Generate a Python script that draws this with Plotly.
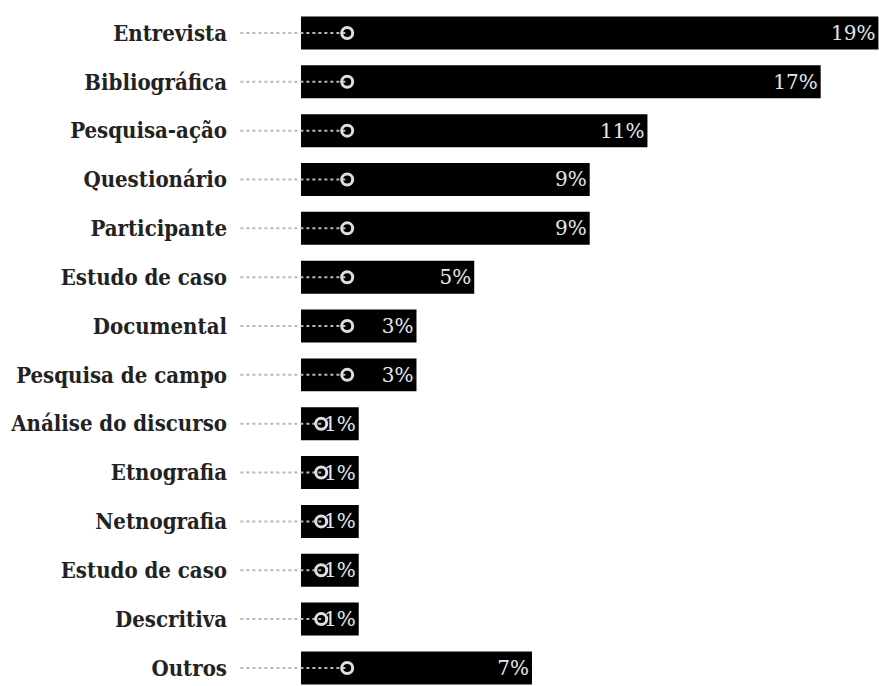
import plotly.graph_objects as go

labels = ["Entrevista", "Bibliográfica", "Pesquisa-ação", "Questionário", "Participante",
          "Estudo de caso", "Documental", "Pesquisa de campo", "Análise do discurso",
          "Etnografia", "Netnografia", "Estudo de caso", "Descritiva", "Outros"]
values = [19, 17, 11, 9, 9, 5, 3, 3, 1, 1, 1, 1, 1, 7]
pct_labels = [f"{v}%" for v in values]

rows = list(range(len(labels)))
BASE = -1  # bars start one unit left of zero (as in the original graphic)

fig = go.Figure()

fig.add_trace(go.Bar(
    y=rows, x=[v - BASE for v in values], base=BASE, orientation="h",
    marker=dict(color="black", line=dict(width=0)),
    width=0.675,
    text=pct_labels, textposition="inside", insidetextanchor="end",
    constraintext="none",
    textfont=dict(family="DejaVu Serif", size=20, color="#e6e6e6"),
    hoverinfo="skip", cliponaxis=False,
))

# dotted leader lines and open-circle markers
lx, ly, cx, cy = [], [], [], []
for r, v in zip(rows, values):
    c = 0.6 if v > 1 else -0.3
    lx += [-3.1, c, None]
    ly += [r, r, None]
    cx.append(c)
    cy.append(r)

fig.add_trace(go.Scatter(x=lx, y=ly, mode="lines",
                         line=dict(color="#b8b8b8", width=2, dash="dot"),
                         hoverinfo="skip", cliponaxis=False))
fig.add_trace(go.Scatter(x=cx, y=cy, mode="markers",
                         marker=dict(symbol="circle-open", size=11, color="#dedede",
                                     line=dict(width=3, color="#dedede")),
                         hoverinfo="skip", cliponaxis=False))

fig.update_layout(
    width=879, height=686,
    margin=dict(l=232, r=0, t=0, b=0),
    paper_bgcolor="white", plot_bgcolor="white",
    showlegend=False,
    font=dict(family="DejaVu Serif Condensed, DejaVu Serif", size=22, color="#222"),
    xaxis=dict(visible=False, range=[-3.39, 19.02], fixedrange=True),
    yaxis=dict(tickvals=rows, ticktext=labels, range=[13.37, -0.675],
               showgrid=False, zeroline=False, showline=False, ticks="",
               ticklabelstandoff=4,
               tickfont=dict(family="DejaVu Serif Condensed, DejaVu Serif", size=22,
                             color="#222", weight="bold"),
               fixedrange=True),
)

fig.write_html("out.html", config={"displayModeBar": False},
               post_script="document.body.style.margin='0';")
